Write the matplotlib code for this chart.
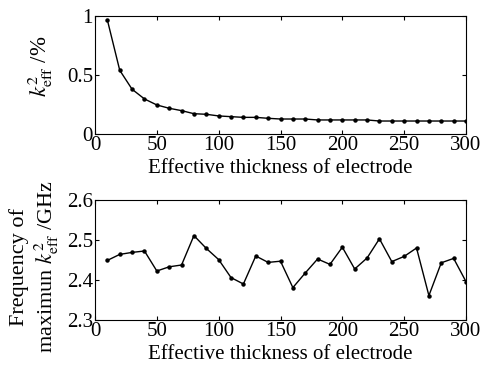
import matplotlib
matplotlib.use("Agg")
import matplotlib.pyplot as plt

plt.rcParams["font.family"] = ["Liberation Serif", "DejaVu Serif"]
plt.rcParams["mathtext.fontset"] = "stix"
plt.rcParams["font.size"] = 15

thickness = [10, 20, 30, 40, 50, 60, 70, 80, 90, 100,
             110, 120, 130, 140, 150, 160, 170, 180, 190, 200,
             210, 220, 230, 240, 250, 260, 270, 280, 290, 300]

k2_eff = [0.966, 0.54, 0.379, 0.297, 0.246, 0.218, 0.198, 0.172, 0.167, 0.153,
          0.147, 0.141, 0.141, 0.133, 0.127, 0.127, 0.127, 0.119, 0.119, 0.119,
          0.119, 0.119, 0.11, 0.11, 0.11, 0.11, 0.11, 0.11, 0.11, 0.11]

freq_max = [2.449, 2.464, 2.469, 2.4725, 2.4225, 2.433, 2.4375, 2.511, 2.479, 2.451,
            2.406, 2.39, 2.46, 2.444, 2.447, 2.381, 2.4175, 2.4525, 2.439, 2.482,
            2.4275, 2.455, 2.503, 2.446, 2.459, 2.48, 2.361, 2.443, 2.454, 2.396]

fig = plt.figure(figsize=(4.82, 3.69), dpi=100)
W, H = 482, 369
ax1 = fig.add_axes([95 / W, 1 - 134 / H, 371 / W, 118 / H])
ax2 = fig.add_axes([95 / W, 1 - 320 / H, 371 / W, 120 / H])

for ax in (ax1, ax2):
    ax.tick_params(direction="in", top=True, right=True, length=3, width=0.8,
                   pad=1.5, labelsize=15)
    ax.set_xlim(0, 300)
    ax.set_xticks(range(0, 301, 50))
    ax.set_xlabel("Effective thickness of electrode", labelpad=3, fontsize=15)
    for s in ax.spines.values():
        s.set_linewidth(0.8)

ax1.plot(thickness, k2_eff, "k-", marker="o", markersize=2.2, linewidth=1)
ax1.set_ylim(0, 1)
ax1.set_yticks([0, 0.5, 1])
ax1.set_yticklabels(["0", "0.5", "1"])
ax1.set_ylabel(r"$k^2_{\mathrm{eff}}$ /%", fontsize=16.5, va="center")
ax1.yaxis.set_label_coords((40 - 95) / 371, (134 - 66) / 118)

ax2.plot(thickness, freq_max, "k-", marker="o", markersize=2.2, linewidth=1)
ax2.set_ylim(2.3, 2.6)
ax2.set_yticks([2.3, 2.4, 2.5, 2.6])
ax2.set_ylabel("Frequency of\nmaximun $k^2_{\\mathrm{eff}}$ /GHz",
               linespacing=1.2, fontsize=16, va="center")
ax2.yaxis.set_label_coords((35 - 95) / 371, (320 - 267) / 120)

fig.savefig("out.png", dpi=100)
